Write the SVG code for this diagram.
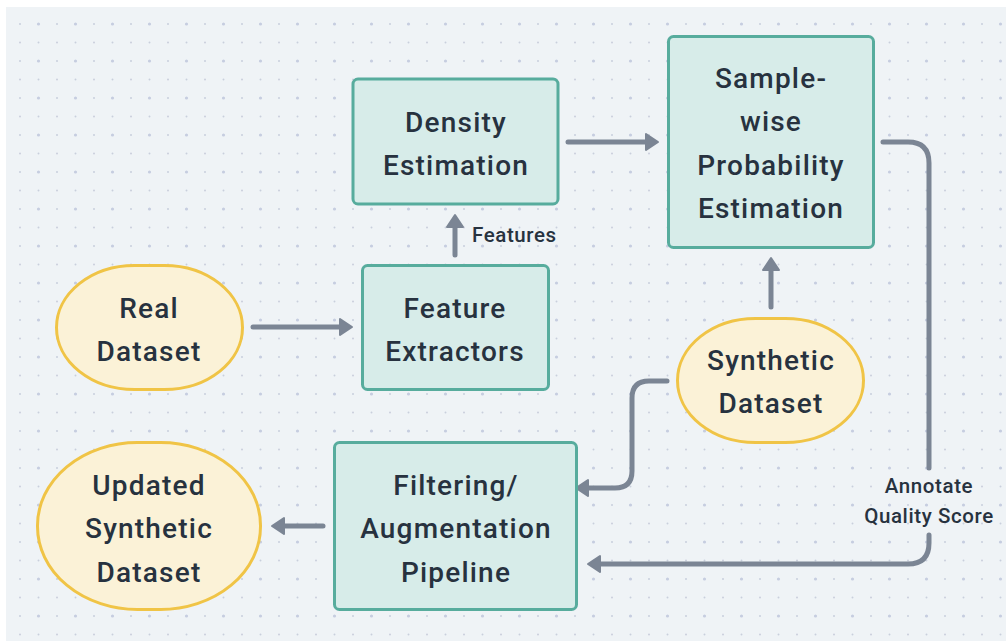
<svg xmlns="http://www.w3.org/2000/svg" width="1006" height="641" viewBox="0 0 1006 641">
  <style>
    .box { fill: #d7ece9; stroke: #57ac9d; stroke-width: 3; }
    .pill { fill: #fbf2d7; stroke: #f0c446; stroke-width: 3; }
    .lbl { font-family: Roboto, "Liberation Sans", sans-serif; font-size: 28px; font-weight: 500; fill: #27323f; text-anchor: middle; letter-spacing: 1.2px; }
    .small { font-family: Roboto, "Liberation Sans", sans-serif; font-size: 20.5px; font-weight: 500; fill: #27323f; letter-spacing: 0.6px; }
    .conn { fill: none; stroke: #7b8594; stroke-width: 5; stroke-linecap: round; stroke-linejoin: round; }
  </style>
  <defs>
    <pattern id="dots" patternUnits="userSpaceOnUse" x="10" y="14" width="37" height="37">
      <circle cx="10" cy="10" r="1" fill="#c9cfdc"/>
      <circle cx="28.5" cy="10" r="1.6" fill="#c6cde0"/>
      <circle cx="10" cy="28.5" r="1" fill="#c9cfdc"/>
      <circle cx="28.5" cy="28.5" r="1" fill="#c9cfdc"/>
    </pattern>
    <marker id="head" markerUnits="userSpaceOnUse" viewBox="-2 -10 16 20" markerWidth="16" markerHeight="20" refX="0" refY="0" orient="auto">
      <path d="M0,-8 L12,0 L0,8 Z" fill="#7b8594" stroke="#7b8594" stroke-width="2" stroke-linejoin="round"/>
    </marker>
  </defs>

  <!-- canvas -->
  <rect x="0" y="0" width="1006" height="641" fill="#ffffff"/>
  <rect x="6" y="7" width="1000" height="634" fill="#eff3f6"/>
  <rect x="6" y="7" width="1000" height="634" fill="url(#dots)"/>

  <!-- connectors -->
  <g id="connectors">
    <path class="conn" d="M253,327 H340" marker-end="url(#head)"/>
    <path class="conn" d="M455,255 V227" marker-end="url(#head)"/>
    <path class="conn" d="M568,142 H646" marker-end="url(#head)"/>
    <path class="conn" d="M771,307 V270" marker-end="url(#head)"/>
    <path class="conn" d="M883,142 H908 Q929,142 929,163 V468"/>
    <path class="conn" d="M929,535 V543 Q929,564 908,564 H600" marker-end="url(#head)"/>
    <path class="conn" d="M667,381 H649 Q632,381 632,398 V471 Q632,488 615,488 H588" marker-end="url(#head)"/>
    <path class="conn" d="M323,526 H284" marker-end="url(#head)"/>
    <text class="small" x="472" y="242">Features</text>
    <text class="small" x="929" y="493" text-anchor="middle">Annotate</text>
    <text class="small" x="929" y="523" text-anchor="middle">Quality Score</text>
  </g>

  <g id="density-estimation">
    <rect class="box" x="353" y="79" width="205" height="125" rx="5"/>
    <text class="lbl" x="456" y="132">Density</text>
    <text class="lbl" x="456" y="175">Estimation</text>
  </g>

  <g id="samplewise-probability">
    <rect class="box" x="668.5" y="36.5" width="205" height="211" rx="5"/>
    <text class="lbl" x="771" y="88">Sample-</text>
    <text class="lbl" x="771" y="131">wise</text>
    <text class="lbl" x="771" y="175">Probability</text>
    <text class="lbl" x="771" y="218">Estimation</text>
  </g>

  <g id="feature-extractors">
    <rect class="box" x="362.5" y="265.5" width="186" height="124" rx="5"/>
    <text class="lbl" x="455" y="318">Feature</text>
    <text class="lbl" x="455" y="361">Extractors</text>
  </g>

  <g id="filtering-pipeline">
    <rect class="box" x="334.5" y="442.5" width="242" height="167" rx="5"/>
    <text class="lbl" x="456" y="495">Filtering/</text>
    <text class="lbl" x="456" y="538">Augmentation</text>
    <text class="lbl" x="456" y="582">Pipeline</text>
  </g>

  <g id="real-dataset">
    <rect class="pill" x="56.5" y="265.5" width="186" height="124" rx="78" ry="62"/>
    <text class="lbl" x="149" y="318">Real</text>
    <text class="lbl" x="149" y="361">Dataset</text>
  </g>

  <g id="synthetic-dataset">
    <rect class="pill" x="677.5" y="318.5" width="186" height="124" rx="78" ry="62"/>
    <text class="lbl" x="771" y="370">Synthetic</text>
    <text class="lbl" x="771" y="413">Dataset</text>
  </g>

  <g id="updated-synthetic-dataset">
    <rect class="pill" x="37.5" y="442.5" width="223" height="167" rx="100" ry="83"/>
    <text class="lbl" x="149" y="495">Updated</text>
    <text class="lbl" x="149" y="538">Synthetic</text>
    <text class="lbl" x="149" y="582">Dataset</text>
  </g>
</svg>
